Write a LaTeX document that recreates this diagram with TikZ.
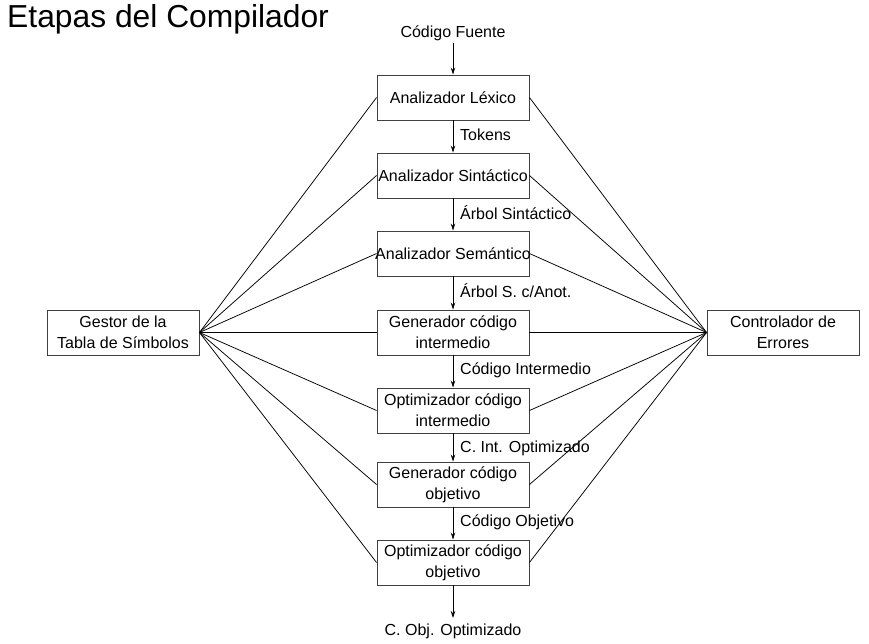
\documentclass[tikz,border=0pt]{standalone}
\usepackage{fontspec}
\setmainfont{Liberation Sans}
\usetikzlibrary{arrows.meta}
\tikzset{
  stage/.style={draw=black!75, line width=0.9pt, minimum width=152pt, minimum height=45pt, inner sep=0pt, align=center, font=\fontsize{16}{21}\selectfont},
  lbl/.style={anchor=west, inner sep=0pt, font=\fontsize{16}{21}\selectfont},
  txt/.style={inner sep=0pt, font=\fontsize{16}{21}\selectfont},
  flow/.style={-{Stealth[length=7pt,width=4.5pt]}, line width=0.75pt},
  link/.style={line width=0.75pt}
}
\begin{document}
\begin{tikzpicture}[x=1pt,y=-1pt]
\useasboundingbox (0,0) rectangle (869,644);
\node[anchor=base west, inner sep=0pt, font=\fontsize{31.8}{36}\selectfont] (title) at (7,28) {Etapas del Compilador};

\node[txt] (src) at (453,33) {Código Fuente};
\node[stage] (s1) at (453,97.5) {Analizador Léxico};
\node[stage] (s2) at (453,175.5) {\makebox[140pt][c]{Analizador Sintáctico}};
\node[stage] (s3) at (453,253.5) {\makebox[140pt][c]{Analizador Semántico}};
\node[stage] (s4) at (453,332.5) {Generador código\\intermedio};
\node[stage] (s5) at (453,410.5) {Optimizador código\\intermedio};
\node[stage] (s6) at (453,484.5) {Generador código\\objetivo};
\node[stage] (s7) at (453,562.5) {Optimizador código\\objetivo};
\node[txt] (out) at (453,631) {C. Obj. Optimizado};

\node[stage] (gts) at (123,332.5) {Gestor de la\\Tabla de Símbolos};
\node[stage] (err) at (783,332.5) {Controlador de\\Errores};

\coordinate (srcend) at (453,43);
\coordinate (outend) at (453,618);
\draw[flow] (srcend) -- (s1.north);
\draw[flow] (s1) -- (s2);
\draw[flow] (s2) -- (s3);
\draw[flow] (s3) -- (s4);
\draw[flow] (s4) -- (s5);
\draw[flow] (s5) -- (s6);
\draw[flow] (s6) -- (s7);
\draw[flow] (s7.south) -- (outend);

\node[lbl] (l1) at (460,135) {Tokens};
\node[lbl] (l2) at (460,213) {Árbol Sintáctico};
\node[lbl] (l3) at (460,291) {Árbol S. c/Anot.};
\node[lbl] (l4) at (460,370) {Código Intermedio};
\node[lbl] (l5) at (460,448) {C. Int. Optimizado};
\node[lbl] (l6) at (460,522) {Código Objetivo};

\foreach \s in {s1,s2,s3,s4,s5,s6,s7}{
  \draw[link] (gts.east) -- (\s.west);
  \draw[link] (err.west) -- (\s.east);
}
\end{tikzpicture}
\end{document}
